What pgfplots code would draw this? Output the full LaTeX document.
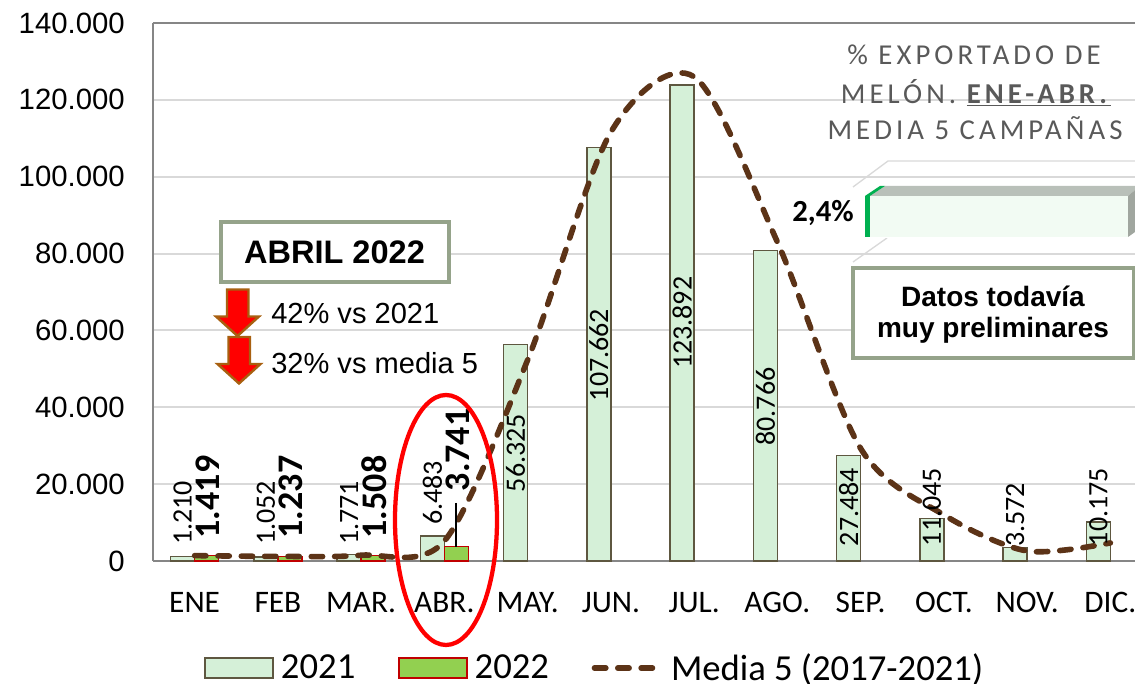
\documentclass[border=0pt]{standalone}
\usepackage{fontspec}
\setmainfont{Liberation Sans}
\newfontfamily\carlito{Carlito}
\newfontfamily\spaced[LetterSpace=14]{Carlito}
\usepackage{pgfplots}
\pgfplotsset{compat=1.18}

\definecolor{gridc}{HTML}{D9D9D9}
\definecolor{axisc}{HTML}{868686}
\definecolor{fillA}{HTML}{D5F0D8}
\definecolor{edgeA}{HTML}{5E5740}
\definecolor{fillB}{HTML}{92D050}
\definecolor{edgeB}{HTML}{C00000}
\definecolor{media}{HTML}{5C3317}
\definecolor{boxc}{HTML}{95A38A}
\definecolor{arrowc}{HTML}{A86010}

\pgfplotsset{
  labels/.style={
    draw=none, no markers, forget plot,
    point meta=explicit symbolic,
    nodes near coords,
    nodes near coords align={anchor=center},
    every node near coord/.append style={rotate=90, anchor=center, inner sep=0pt, text=black, font=#1},
  },
}

\begin{document}
\begin{tikzpicture}
\path[use as bounding box] (-114.75pt,-92.25pt) rectangle (736.5pt,420.75pt);
\begin{axis}[
    scale only axis,
    anchor=south west,
    at={(0pt,0pt)},
    width=736.5pt,
    height=403.5pt,
    xmin=-0.5, xmax=11.296,
    ymin=0, ymax=140000,
    clip=false,
    axis y line=left,
    axis x line=bottom,
    axis line style={draw=axisc, line width=1.5pt, -},
    xtick={0,1,2,3,4,5,6,7,8,9,10,11},
    xticklabels={ENE,FEB,MAR.,ABR.,MAY.,JUN.,JUL.,AGO.,SEP.,OCT.,NOV.,DIC.},
    ytick={0,20000,40000,60000,80000,100000,120000,140000},
    yticklabels={0,20.000,40.000,60.000,80.000,100.000,120.000,140.000},
    scaled y ticks=false,
    major tick length=0pt,
    ymajorgrids=true,
    grid style={draw=gridc, line width=1.5pt},
    yticklabel style={font=\fontsize{22}{24}\selectfont, inner sep=0pt, xshift=-21pt},
    xticklabel style={font=\carlito\fontsize{23.5}{25}\selectfont, inner sep=0pt, yshift=-23.5pt},
    legend style={
      draw=none, fill=none, inner sep=0pt,
      at={(0.052,-0.199)}, anchor=west,
      font=\carlito\fontsize{27.5}{29}\selectfont,
      legend columns=3,
      /tikz/every even column/.append style={column sep=30pt},
      /tikz/every odd column/.append style={column sep=3.3pt},
    },
]
\addplot[ybar, bar width=18pt, bar shift=-9pt, draw=edgeA, fill=fillA, line width=1pt,
    legend image code/.code={\draw[draw=edgeA, fill=fillA, line width=1.2pt] (0pt,-7.5pt) rectangle (51pt,7.5pt);}]
  coordinates {(0,1210)(1,1052)(2,1771)(3,6483)(4,56325)(5,107662)(6,123892)(7,80766)(8,27484)(9,11045)(10,3572)(11,10175)};
\addlegendentry{2021}
\addplot[ybar, bar width=18pt, bar shift=9pt, draw=edgeB, fill=fillB, line width=1pt,
    legend image code/.code={\draw[draw=edgeB, fill=fillB, line width=1.2pt] (0pt,-7.5pt) rectangle (51pt,7.5pt);}]
  coordinates {(0,1419)(1,1237)(2,1508)(3,3741)};
\addlegendentry{2022}
\addplot[smooth, draw=media, line width=4.2pt, line cap=round, dash pattern=on 8.5pt off 9pt,
    legend image code/.code={\draw[draw=media, line width=4.2pt, line cap=round, dash pattern=on 8.5pt off 9pt] (0pt,0pt) -- (50pt,0pt);}]
  coordinates {(0,1400)(1,1200)(2,1500)(3,5200)(4,52300)(5,111600)(6,126000)(7,83000)(8,29300)(9,12000)(10,2600)(11,4700)};
\addlegendentry{Media 5 (2017-2021)}

\addplot[labels=\carlito\fontsize{21}{21}\selectfont] coordinates {
  (-0.144,12500)[1.210] (0.856,12500)[1.052] (1.856,12500)[1.771] (2.856,17700)[6.483]
  (3.856,28100)[56.325] (4.856,53600)[107.662] (5.856,62000)[123.892] (6.856,40200)[80.766]
  (7.856,14050)[27.484] (8.856,14050)[11.045] (9.856,12000)[3.572] (10.856,14050)[10.175]};
\addplot[labels=\carlito\bfseries\fontsize{27}{27}\selectfont] coordinates {
  (0.16,16650)[1.419] (1.16,16650)[1.237] (2.16,16650)[1.508] (3.16,28900)[3.741]};
\end{axis}

% overlays, in pixels of the reference
\begin{scope}[shift={(-114.75pt,420.75pt)}, x=0.75pt, y=-0.75pt]
  \draw[axisc, line width=1.5pt] (153,23) -- (1135,23);
  \draw[black, line width=1pt] (456,503) -- (456,547);
  \draw[red, line width=3.2pt] (446,520) ellipse [x radius=51, y radius=125];

  % ABRIL box and arrows
  \node[draw=boxc, fill=white, line width=3pt, minimum width=171pt, minimum height=45pt, inner sep=0pt,
        font=\bfseries\fontsize{24.4}{26}\selectfont] at (334.5,252) {ABRIL 2022};
  \foreach \dx/\dy in {0/0,1.5/47.5} {
    \draw[arrowc, fill=red, line width=1.8pt, shift={(\dx,\dy)}]
      (227,289.5) -- (248.5,289.5) -- (248.5,316.5) -- (259,316.5) -- (237.5,336) -- (216,316.5) -- (227,316.5) -- cycle;
  }
  \node[anchor=west, inner sep=0pt, font=\fontsize{21.8}{24}\selectfont] at (271,314) {42\% vs 2021};
  \node[anchor=west, inner sep=0pt, font=\fontsize{21.8}{24}\selectfont] at (271,363) {32\% vs media 5};

  % title of the inset
  \definecolor{titlec}{HTML}{595959}
  \node[text=titlec, inner sep=0pt, font=\spaced\fontsize{21.6}{23}\selectfont] at (974,55) {\% EXPORTADO DE};
  \node[text=titlec, inner sep=0pt, font=\spaced\fontsize{21.6}{23}\selectfont] at (976,93) {MELÓN. \underline{\textbf{ENE-ABR.}}};
  \node[text=titlec, inner sep=0pt, font=\spaced\fontsize{21.6}{23}\selectfont] at (975,128) {MEDIA 5 CAMPAÑAS};

  % inset 3D bar
  \draw[gridc, line width=1pt] (853,187) -- (888,161) -- (1135,161);
  \draw[gridc, line width=1pt] (853,262) -- (887,238);
  \fill[fill=white] (865,186) rectangle (1135,238);
  \fill[fill={rgb,255:red,185;green,192;blue,185}] (870,196) -- (885,186) -- (1135,186) -- (1135,190) -- (1128,196) -- cycle;
  \fill[fill={rgb,255:red,0;green,176;blue,80}] (865,196) -- (880,186) -- (885,186) -- (870,196) -- cycle;
  \fill[fill={rgb,255:red,160;green,166;blue,159}] (1128,196) -- (1135,190) -- (1135,232) -- (1128,237) -- cycle;
  \fill[fill={rgb,255:red,242;green,251;blue,243}] (870,196) rectangle (1128,237);
  \fill[fill={rgb,255:red,0;green,176;blue,80}] (865,196) rectangle (870,237);
  \node[anchor=east, inner sep=0pt, font=\carlito\bfseries\fontsize{23}{25}\selectfont] at (854,213) {2,4\%};

  % Datos box
  \draw[boxc, fill=white, line width=3pt] (853,268) rectangle (1134,358);
  \node[inner sep=0pt, font=\bfseries\fontsize{21}{23}\selectfont] at (993,296) {Datos todavía};
  \node[inner sep=0pt, font=\bfseries\fontsize{21}{23}\selectfont] at (993,330) {muy preliminares};
\end{scope}
\end{tikzpicture}
\end{document}
